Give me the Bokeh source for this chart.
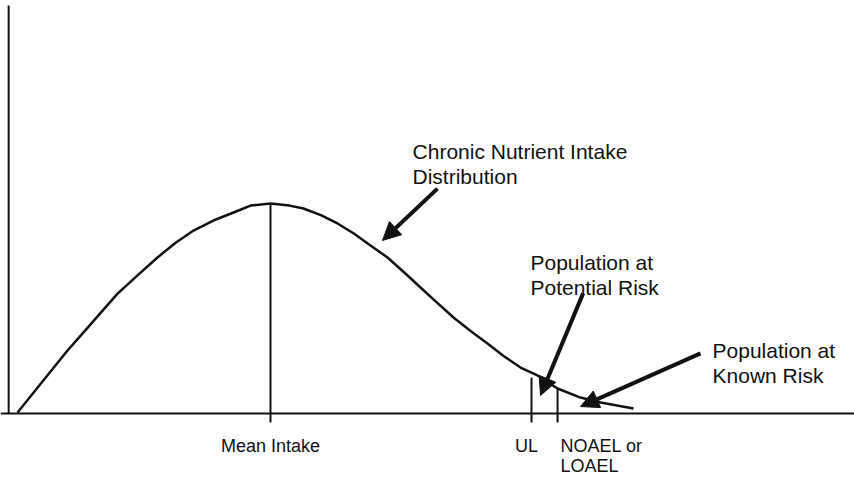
from bokeh.plotting import figure
from bokeh.models import Range1d, Span, Arrow, NormalHead, Label
from bokeh.embed import file_html
from bokeh.resources import INLINE

# ---- data ----
intake = [0.95, 3.90, 6.86, 8.75, 12.77, 15.2, 17.49, 19.6, 21.75, 24.1, 26.48,
          28.49, 30.85, 33.10, 34.75, 36.8, 38.77, 40.7, 42.67, 44.68, 46.6,
          48.58, 50.5, 52.48, 54.5, 56.50, 58.4, 60.40, 62.41, 64.78,
          67.49, 69.86, 73.76]
density = [0.5, 15.2, 30.0, 38.6, 57.1, 66.0, 74.3, 81.2, 87.1, 91.9, 95.7,
           99.0, 100.0, 99.0, 97.6, 94.5, 90.5, 85.7, 80.0, 74.3, 67.4,
           60.0, 52.9, 45.7, 39.3, 33.3, 27.4, 21.9, 18.1, 11.9,
           7.6, 5.2, 2.4]

marker_labels = ["Mean Intake", "UL", "NOAEL or", "LOAEL"]
marker_x = [30.85, 61.70, 64.78]
marker_top = [100.0, 17.1, 11.9]

notes = [["Chronic Nutrient Intake", "Distribution"],
         ["Population at", "Potential Risk"],
         ["Population at", "Known Risk"]]
note_x = [47.64, 61.58, 83.1]
note_y = [124.8, 71.9, 30.0]
arrow_from = [(50.59, 107.1), (67.8, 57.2), (81.68, 28.6)]
arrow_to = [(44.09, 82.4), (62.77, 8.6), (67.49, 3.3)]

y_axis_top = 194.3

# ---- figure ----
W, H = 854, 477
x0, x1 = -1.064, 99.88
y0, y1 = -30.476, 196.667
PX_Y = H / (y1 - y0)

p = figure(width=W, height=H, x_range=Range1d(x0, x1), y_range=Range1d(y0, y1),
           output_backend="svg", toolbar_location=None,
           x_axis_location=None, y_axis_location=None, min_border=0,
           outline_line_color=None, background_fill_color="white")
p.grid.visible = False

ink = "#111111"
p.add_layout(Span(location=0, dimension="width", line_color=ink, line_width=2))
p.segment(x0=[-0.1], y0=[0], x1=[-0.1], y1=[y_axis_top], line_color=ink, line_width=2)

p.line(intake, density, line_color=ink, line_width=2.5, line_join="round")

tick = 9 / PX_Y
p.segment(x0=marker_x, y0=[-tick] * 3, x1=marker_x, y1=marker_top,
          line_color=ink, line_width=2)

font = "Liberation Sans"
lab_y1 = -32 / PX_Y
lab_y2 = -52 / PX_Y
common = dict(text_font=font, text_font_size="18px", text_color=ink,
              text_baseline="alphabetic")
p.add_layout(Label(x=marker_x[0], y=lab_y1, text=marker_labels[0],
                   text_align="center", **common))
p.add_layout(Label(x=marker_x[1], y=lab_y1, x_offset=-5, text=marker_labels[1],
                   text_align="center", **common))
p.add_layout(Label(x=marker_x[2], y=lab_y1, x_offset=3, text=marker_labels[2],
                   text_align="left", **common))
p.add_layout(Label(x=marker_x[2], y=lab_y2, x_offset=3, text=marker_labels[3],
                   text_align="left", **common))

for lines, nx, ny in zip(notes, note_x, note_y):
    for i, t in enumerate(lines):
        p.add_layout(Label(x=nx, y=ny, y_offset=-25 * i, text=t,
                           text_font=font, text_font_size="21px", text_color=ink,
                           text_align="left", text_baseline="alphabetic"))

for (xs, ys), (xe, ye) in zip(arrow_from, arrow_to):
    p.add_layout(Arrow(end=NormalHead(size=18, fill_color=ink, line_color=ink, line_width=1),
                       x_start=xs, y_start=ys, x_end=xe, y_end=ye,
                       line_color=ink, line_width=4))

open("out.html", "w").write(file_html(p, INLINE))
